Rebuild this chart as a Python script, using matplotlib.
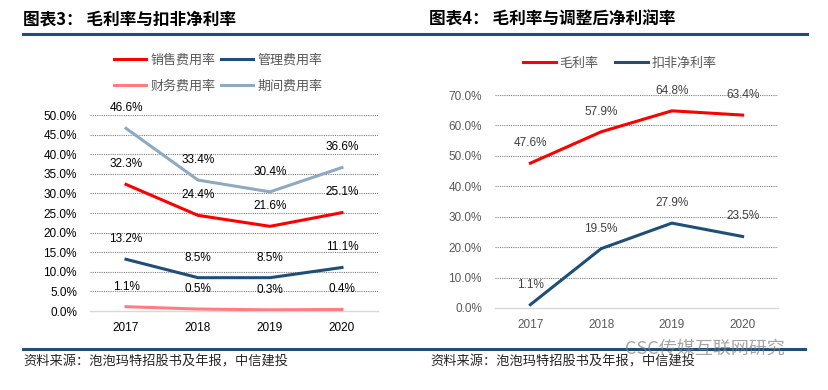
# coding=utf-8
# 泡泡玛特 费用率 / 毛利率与扣非净利率 两张折线图
import matplotlib.pyplot as plt
from matplotlib.lines import Line2D

plt.rcParams['font.family'] = ['Liberation Sans', 'Noto Sans CJK SC', 'DejaVu Sans']

years = ['2017', '2018', '2019', '2020']
# 图表3 (%)
sales_rate = [32.3, 24.4, 21.6, 25.1]
admin_rate = [13.2, 8.5, 8.5, 11.1]
fin_rate = [1.1, 0.5, 0.3, 0.4]
period_rate = [46.6, 33.4, 30.4, 36.6]
left_ticks = [0, 5, 10, 15, 20, 25, 30, 35, 40, 45, 50]
# 图表4 (%)
gross_rate = [47.6, 57.9, 64.8, 63.4]
net_rate = [1.1, 19.5, 27.9, 23.5]
right_ticks = [0, 10, 20, 30, 40, 50, 60, 70]

W, H = 829, 390
fig = plt.figure(figsize=(W / 100, H / 100), dpi=100)


def px(x0, y0, x1, y1):
    return [x0 / W, 1 - y1 / H, (x1 - x0) / W, (y1 - y0) / H]


def style_axes(ax, ticks, tick_color):
    ax.set_xlim(-0.5, 3.5)
    ax.set_ylim(ticks[0], ticks[-1])
    ax.set_yticks(ticks)
    ax.set_yticklabels(['%.1f%%' % t for t in ticks])
    ax.set_xticks(range(len(years)))
    ax.set_xticklabels(years)
    ax.hlines(ticks[1:], -0.5, 3.5, colors='#7f7f7f', linestyles=(0, (1, 1)), lw=0.8, zorder=1)
    for s in ['top', 'right', 'left']:
        ax.spines[s].set_visible(False)
    ax.spines['bottom'].set_color('#d9d9d9')
    ax.spines['bottom'].set_linewidth(1.0)
    ax.tick_params(axis='y', length=0, pad=9.4, labelsize=8.5, labelcolor=tick_color)
    ax.tick_params(axis='x', length=0, pad=8, labelsize=8.5, labelcolor=tick_color)


def add_labels(ax, vals, color):
    for i, v in enumerate(vals):
        ax.annotate('%.1f%%' % v, (i, v), xytext=(0, 14.5), textcoords='offset points',
                    ha='center', va='center', fontsize=8.5, color=color,
                    annotation_clip=False, zorder=5)


# ---- 图表3 ----
axL = fig.add_axes(px(90, 115, 378, 311))
style_axes(axL, left_ticks, '#000000')
x = range(len(years))
l1, = axL.plot(x, sales_rate, color='#ff0000', lw=2.2, label='销售费用率', zorder=3)
l2, = axL.plot(x, admin_rate, color='#1f4e79', lw=2.2, label='管理费用率', zorder=3)
l3, = axL.plot(x, fin_rate, color='#ff7c80', lw=2.2, label='财务费用率', zorder=3)
l4, = axL.plot(x, period_rate, color='#8eaac2', lw=2.2, label='期间费用率', zorder=3)
for vals in [sales_rate, admin_rate, fin_rate, period_rate]:
    add_labels(axL, vals, '#000000')

fig.legend(handles=[l1, l3, l2, l4], ncol=2, loc='center',
           bbox_to_anchor=(218 / W, 1 - 73 / H), frameon=False,
           prop={'family': ['Noto Sans CJK SC'], 'size': 9.4}, labelcolor='#595959',
           handlelength=2.5, handletextpad=0.3, columnspacing=0.4, labelspacing=1.05)

# ---- 图表4 ----
axR = fig.add_axes(px(495, 95, 778, 308))
style_axes(axR, right_ticks, '#595959')
r1, = axR.plot(x, gross_rate, color='#ff0000', lw=2.2, label='毛利率', zorder=3)
r2, = axR.plot(x, net_rate, color='#1f4e79', lw=2.2, label='扣非净利率', zorder=3)
add_labels(axR, gross_rate, '#404040')
add_labels(axR, net_rate, '#404040')

fig.legend(handles=[r1, r2], ncol=2, loc='center',
           bbox_to_anchor=(620 / W, 1 - 63 / H), frameon=False,
           prop={'family': ['Noto Sans CJK SC'], 'size': 9.4}, labelcolor='#595959',
           handlelength=2.5, handletextpad=0.3, columnspacing=1.3)

# ---- 标题、分隔线、来源 ----
fig.text(23 / W, 1 - 20 / H, '图表3： 毛利率与扣非净利率', fontsize=12, weight='bold',
         va='center', family=['Noto Sans CJK SC'])
fig.text(429 / W, 1 - 20 / H, '图表4： 毛利率与调整后净利润率', fontsize=12, weight='bold',
         va='center', family=['Noto Sans CJK SC'])
fig.add_artist(Line2D([23 / W, 807 / W], [1 - 34 / H] * 2, color='#1f4e79', lw=2.2))
fig.add_artist(Line2D([23 / W, 805 / W], [1 - 349 / H] * 2, color='#1f4e79', lw=2.2))
fig.text(23 / W, 1 - 362 / H, '资料来源：泡泡玛特招股书及年报，中信建投', fontsize=9.5,
         style='italic', va='center', color='#262626', family=['Noto Sans CJK SC'])
fig.text(430 / W, 1 - 362 / H, '资料来源：泡泡玛特招股书及年报，中信建投', fontsize=9.5,
         style='italic', va='center', color='#262626', family=['Noto Sans CJK SC'])
fig.text(625 / W, 1 - 349 / H, 'CSC传媒互联网研究', fontsize=13, va='center',
         color='#7f7f7f', alpha=0.7, family=['Noto Sans CJK SC'])

fig.savefig('out.png', dpi=100)
